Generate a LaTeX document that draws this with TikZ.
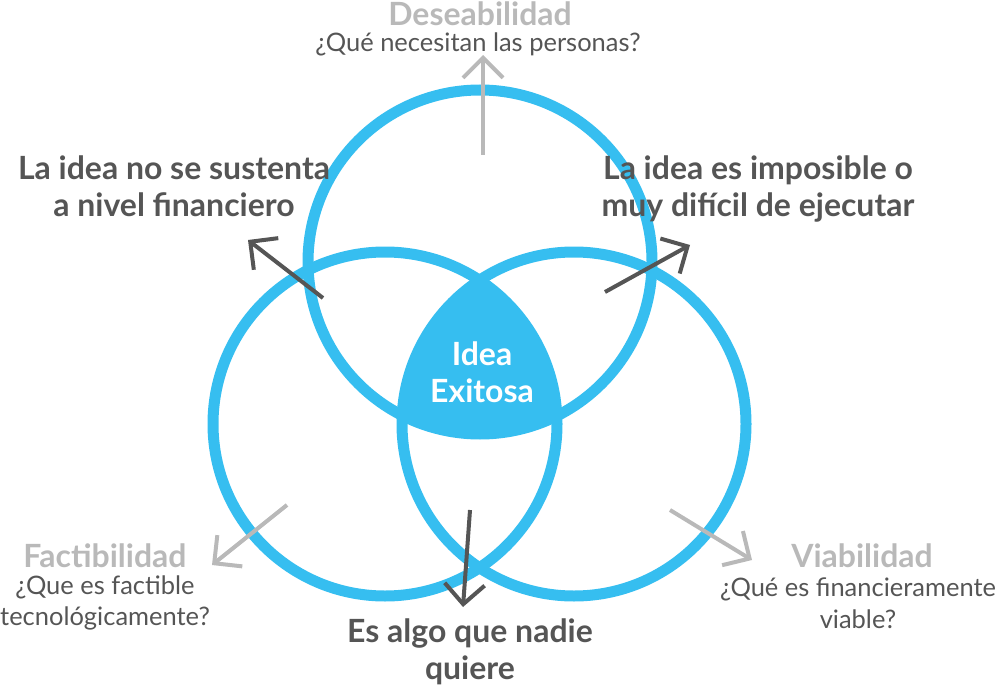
\documentclass[tikz,border=0pt]{standalone}
\usepackage{fontspec}
\setmainfont{Lato}
\usetikzlibrary{arrows.meta}
\definecolor{venn}{RGB}{54,190,240}
\definecolor{lite}{RGB}{185,185,185}
\definecolor{dark}{RGB}{85,85,85}
\tikzset{
    ring/.style={draw=venn, line width=2.2mm},
    outarrow/.style={-{Straight Barb[length=4mm, width=8mm, line width=0.8mm]}, line width=0.8mm},
    head/.style={font=\bfseries\fontsize{18.2}{21}\selectfont, align=center},
    sub/.style={font=\fontsize{14.5}{18}\selectfont, text=dark, align=center},
}
\begin{document}
\begin{tikzpicture}[x=0.02cm, y=-0.02cm]
    \useasboundingbox (0,0) rectangle (1000,689);
    % shared region of the three sets
    \begin{scope}
        \clip (480,262) circle (172);
        \clip (385,424) circle (172);
        \fill[venn] (574,424) circle (172);
    \end{scope}
    \draw[ring] (480,262) circle (172);
    \draw[ring] (385,424) circle (172);
    \draw[ring] (574,424) circle (172);

    \node[head, text=white] (exito) at (482,372) {Idea\\Exitosa};

    \node[head, text=lite] (des) at (480,14) {Deseabilidad};
    \node[sub] (desq) at (478,44) {¿Qué necesitan las personas?};
    \node[head, text=lite] (fac) at (105,556) {Factibilidad};
    \node[sub] (facq) at (105,603) {¿Que es factible\\tecnológicamente?};
    \node[head, text=lite] (via) at (862,556) {Viabilidad};
    \node[sub] (viaq) at (858,603) {¿Qué es financieramente\\viable?};

    \node[head, text=dark] (fin) at (174,186) {La idea no se sustenta\\a nivel financiero};
    \node[head, text=dark] (imp) at (758,189) {La idea es imposible o\\muy difícil de ejecutar};
    \node[head, text=dark] (nadie) at (470,652) {Es algo que nadie\\quiere};

    \coordinate (a1) at (483,155); \coordinate (b1) at (483,55);
    \coordinate (a2) at (287,505); \coordinate (b2) at (212,565);
    \coordinate (a3) at (670,510); \coordinate (b3) at (752,560);
    \coordinate (a4) at (323,298); \coordinate (b4) at (248,240);
    \coordinate (a5) at (605,292); \coordinate (b5) at (690,245);
    \coordinate (a6) at (470,510); \coordinate (b6) at (463,607);

    \draw[outarrow, lite] (a1) -- (b1);
    \draw[outarrow, lite] (a2) -- (b2);
    \draw[outarrow, lite] (a3) -- (b3);
    \draw[outarrow, dark] (a4) -- (b4);
    \draw[outarrow, dark] (a5) -- (b5);
    \draw[outarrow, dark] (a6) -- (b6);
\end{tikzpicture}
\end{document}
